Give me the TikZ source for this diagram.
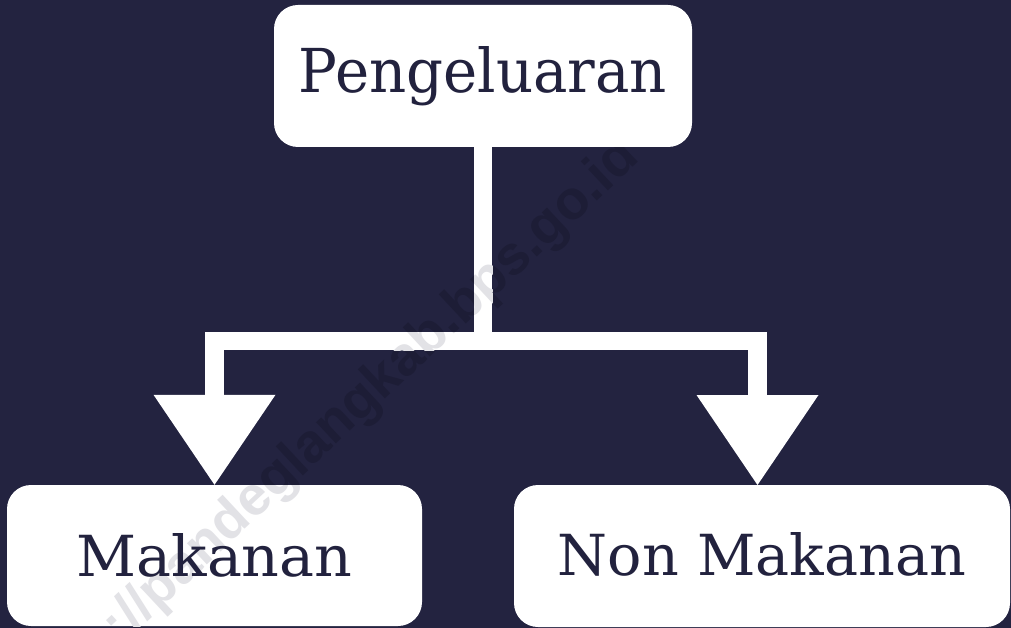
\documentclass[tikz,border=0pt]{standalone}
\usepackage{fontspec}
\usepackage{graphicx}
\usetikzlibrary{arrows.meta,calc}
\newfontfamily\slab{DejaVu Serif}
\newfontfamily\wmfont{Liberation Sans}
\definecolor{navy}{HTML}{232340}
\definecolor{ink}{HTML}{22223E}
\definecolor{wmdark}{HTML}{1D1D36}
\definecolor{wmlight}{HTML}{E2E2E6}
\newcommand{\wmtext}{\resizebox{710pt}{!}{://pandeglangkab.bps.go.id}}
\begin{document}
\begin{tikzpicture}[x=1pt,y=-1pt,
  box/.style={fill=white, rounded corners=24pt, inner sep=0pt, text=ink, font=\slab},
  conn/.style={draw=white, line width=18.5pt, line join=miter,
    -{Triangle[length=90pt,width=122pt,line width=0pt]}},
  wmstyle/.style={rotate=43, font=\wmfont\bfseries, inner sep=0pt},
  wmunder/.style n args={3}{path picture={\node[wmstyle, text=wmlight] (#1)
     at ($(path picture bounding box.center)+(#2,#3)$) {\wmtext};}}]
\fill[navy] (0,0) rectangle (1011,628);
\useasboundingbox (0,0) rectangle (1011,628);
% watermark over the dark ground
\node[wmstyle, text=wmdark] (wm) at (372,392) {\wmtext};
% boxes
\node[box, minimum width=418pt, minimum height=142pt] (top) at (483,76)
  {\resizebox{368pt}{46pt}{Pengeluaran}};
\node[box, wmunder={wmL}{157.5}{-163.5}, minimum width=415pt, minimum height=141pt] (left) at (214.5,555.5)
  {\resizebox{276pt}{43pt}{Makanan}};
\node[box, wmunder={wmR}{-390}{-164}, minimum width=496pt, minimum height=142pt] (right) at (762,556)
  {\raisebox{5pt}{\resizebox{408pt}{43pt}{Non Makanan}}};
\coordinate (rt) at (757.5,485);
% connectors
\draw[conn] (top.south) -- (top.south |- 0,341) -| (left.north);
\draw[conn] (top.south) -- (top.south |- 0,341) -| (rt);
% watermark over the white connector bars
\begin{scope}
  \clip (473.75,147) rectangle (492.25,350.25) (205.25,331.75) rectangle (766.75,350.25);
  \node[wmstyle, text=wmlight] (wmB) at (372,392) {\wmtext};
\end{scope}
\end{tikzpicture}
\end{document}
